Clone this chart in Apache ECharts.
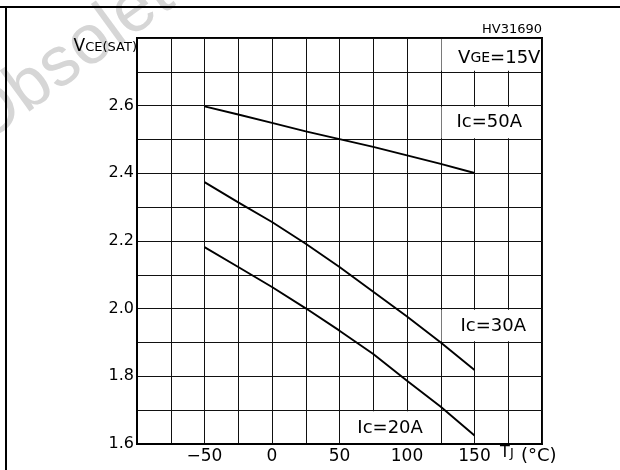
<!DOCTYPE html>
<html>
<head>
<meta charset="utf-8">
<script src="https://cdn.jsdelivr.net/npm/echarts@6/dist/echarts.min.js"></script>
<style>html,body{margin:0;padding:0;background:#fff}#c{width:620px;height:470px}</style>
</head>
<body>
<div id="c"></div>
<script>
// Junction temperature (°C)
var temps = [-50, -25, 0, 25, 50, 75, 100, 125, 150];
// VCE(sat) (V) per collector current
var ic50 = [2.598, 2.574, 2.549, 2.524, 2.501, 2.478, 2.453, 2.428, 2.401];
var ic30 = [2.374, 2.314, 2.256, 2.192, 2.123, 2.050, 1.977, 1.900, 1.819];
var ic20 = [2.182, 2.123, 2.064, 2.001, 1.935, 1.866, 1.787, 1.710, 1.625];
var seriesNames = ['Ic=50A', 'Ic=30A', 'Ic=20A'];
var xTickLabels = [-50, 0, 50, 100, 150];
var yTickLabels = [1.6, 1.8, 2.0, 2.2, 2.4, 2.6];

function pairs(vals) { return temps.map(function (t, i) { return [t, vals[i]]; }); }

var FONT = 'DejaVu Sans';
var chart = echarts.init(document.getElementById('c'), null, {renderer: 'canvas'});

function boxLabel(text, offset) {
  return {show: true, position: 'inside', offset: offset, color: '#000',
    fontFamily: FONT, fontSize: 18, formatter: text};
}

var lineStyle = {color: '#000', width: 1.9};
var white = {color: '#fff', borderWidth: 0};

chart.setOption({
  animation: false,
  backgroundColor: '#fff',
  grid: {left: 137, right: 78, top: 38, bottom: 26, show: true,
    borderColor: '#000', borderWidth: 2, backgroundColor: 'transparent'},
  xAxis: {
    type: 'value', min: -100, max: 200, interval: 25,
    axisLine: {show: true, onZero: false, lineStyle: {color: '#000', width: 2}},
    axisTick: {show: false},
    splitLine: {show: true, lineStyle: {color: '#111', width: 1}},
    axisLabel: {
      margin: 4, color: '#000', fontFamily: FONT, fontSize: 17,
      formatter: function (v) {
        if (xTickLabels.indexOf(v) < 0) return '';
        return v < 0 ? '\u2212' + Math.abs(v) : String(v);
      }
    }
  },
  yAxis: {
    type: 'value', min: 1.6, max: 2.8, interval: 0.1,
    axisLine: {show: true, onZero: false, lineStyle: {color: '#000', width: 2}},
    axisTick: {show: false},
    splitLine: {show: true, lineStyle: {color: '#111', width: 1}},
    axisLabel: {
      margin: 3, color: '#000', fontFamily: FONT, fontSize: 16,
      formatter: function (v) {
        var r = Math.round(v * 10) / 10;
        for (var i = 0; i < yTickLabels.length; i++) {
          if (Math.abs(yTickLabels[i] - r) < 1e-6) return r.toFixed(1);
        }
        return '';
      }
    }
  },
  series: [
    {
      name: seriesNames[0], type: 'line', data: pairs(ic50), showSymbol: false, symbol: 'none',
      lineStyle: lineStyle, z: 3,
      markArea: {
        silent: true, itemStyle: white,
        data: [
          [{xAxis: 125.6, yAxis: 2.7035, itemStyle: white,
            label: {show: true, position: 'inside', offset: [8, 2], color: '#000',
              formatter: '{a|V}{b|GE}{a|=15V}',
              rich: {a: {fontFamily: FONT, fontSize: 18, lineHeight: 20, verticalAlign: 'bottom'},
                     b: {fontFamily: FONT, fontSize: 14, lineHeight: 20, verticalAlign: 'bottom', padding: [0, 0, 1, 0]}}}},
           {xAxis: 199.2, yAxis: 2.797}],
          [{xAxis: 125.6, yAxis: 2.5035, itemStyle: white, label: boxLabel(seriesNames[0], [-2, 0])},
           {xAxis: 199.2, yAxis: 2.5965}],
          [{xAxis: 125.6, yAxis: 1.9035, itemStyle: white, label: boxLabel(seriesNames[1], [2, 1])},
           {xAxis: 199.2, yAxis: 1.9965}],
          [{xAxis: 50.6, yAxis: 1.603, itemStyle: white, label: boxLabel(seriesNames[2], [0, 1])},
           {xAxis: 124.4, yAxis: 1.6965}]
        ]
      }
    },
    {name: seriesNames[1], type: 'line', data: pairs(ic30), showSymbol: false, symbol: 'none', lineStyle: lineStyle, z: 3},
    {name: seriesNames[2], type: 'line', data: pairs(ic20), showSymbol: false, symbol: 'none', lineStyle: lineStyle, z: 3}
  ],
  graphic: [
    {type: 'text', z: -10, x: -9, y: 159, rotation: 0.63,
      style: {text: 'Obsolete Product(s)', fill: '#d6d6d6', font: '70px "Liberation Sans"',
        verticalAlign: 'bottom', align: 'left'}},
    {type: 'line', shape: {x1: 0, y1: 7, x2: 620, y2: 7}, style: {stroke: '#000', lineWidth: 2}},
    {type: 'line', shape: {x1: 6, y1: 7, x2: 6, y2: 470}, style: {stroke: '#000', lineWidth: 2}},
    {type: 'text', x: 542, y: 30,
      style: {text: 'HV31690', fill: '#000', font: '13px "DejaVu Sans"', align: 'right', verticalAlign: 'middle'}},
    {type: 'text', x: 137, y: 46,
      style: {text: '{a|V}{b|CE(SAT)}', align: 'right', verticalAlign: 'middle', fill: '#000',
        rich: {a: {fontFamily: FONT, fontSize: 17, lineHeight: 18, verticalAlign: 'bottom'},
               b: {fontFamily: FONT, fontSize: 13, lineHeight: 18, verticalAlign: 'bottom', padding: [0, 0, 1, 0]}}}},
    {type: 'text', x: 500, y: 452.5,
      style: {text: 'T', fill: '#000', font: '16px "DejaVu Sans"', align: 'left', verticalAlign: 'middle'}},
    {type: 'text', x: 510, y: 453.5,
      style: {text: 'J', fill: '#000', font: '13px "DejaVu Sans"', align: 'left', verticalAlign: 'middle'}},
    {type: 'text', x: 521, y: 456,
      style: {text: '(°C)', fill: '#000', font: '18px "DejaVu Sans"', align: 'left', verticalAlign: 'middle'}}
  ]
});
</script>
</body>
</html>
